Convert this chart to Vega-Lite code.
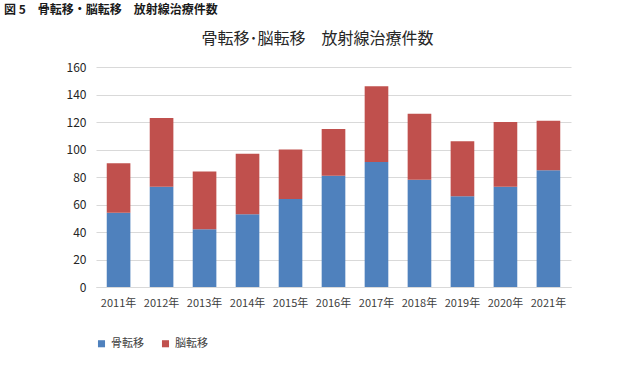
{
  "$schema": "https://vega.github.io/schema/vega-lite/v6.json",
  "padding": {"left": 4, "top": 4, "right": 5, "bottom": 5},
  "background": "white",
  "config": {
    "font": "Noto Sans CJK JP",
    "view": {"stroke": null},
    "concat": {"spacing": 0}
  },
  "title": {
    "text": "図 5　骨転移・脳転移　放射線治療件数",
    "anchor": "start",
    "fontSize": 12,
    "fontWeight": "bold",
    "color": "#1a1a1a",
    "font": "Noto Sans CJK JP",
    "offset": 14
  },
  "data": {
    "values": [
      {"年": "2011年", "系列": "骨転移", "件数": 54},
      {"年": "2011年", "系列": "脳転移", "件数": 36},
      {"年": "2012年", "系列": "骨転移", "件数": 73},
      {"年": "2012年", "系列": "脳転移", "件数": 50},
      {"年": "2013年", "系列": "骨転移", "件数": 42},
      {"年": "2013年", "系列": "脳転移", "件数": 42},
      {"年": "2014年", "系列": "骨転移", "件数": 53},
      {"年": "2014年", "系列": "脳転移", "件数": 44},
      {"年": "2015年", "系列": "骨転移", "件数": 64},
      {"年": "2015年", "系列": "脳転移", "件数": 36},
      {"年": "2016年", "系列": "骨転移", "件数": 81},
      {"年": "2016年", "系列": "脳転移", "件数": 34},
      {"年": "2017年", "系列": "骨転移", "件数": 91},
      {"年": "2017年", "系列": "脳転移", "件数": 55},
      {"年": "2018年", "系列": "骨転移", "件数": 78},
      {"年": "2018年", "系列": "脳転移", "件数": 48},
      {"年": "2019年", "系列": "骨転移", "件数": 66},
      {"年": "2019年", "系列": "脳転移", "件数": 40},
      {"年": "2020年", "系列": "骨転移", "件数": 73},
      {"年": "2020年", "系列": "脳転移", "件数": 47},
      {"年": "2021年", "系列": "骨転移", "件数": 85},
      {"年": "2021年", "系列": "脳転移", "件数": 36}
    ]
  },
  "vconcat": [
    {
      "width": 475,
      "height": 220,
      "title": {
        "text": "骨転移･脳転移　放射線治療件数",
        "anchor": "middle",
        "fontSize": 16,
        "fontWeight": "normal",
        "color": "#262626",
        "dx": -16,
        "offset": 14
      },
      "mark": {"type": "bar", "stroke": null},
      "encoding": {
        "x": {
          "field": "年",
          "type": "nominal",
          "sort": null,
          "scale": {"paddingInner": 0.45, "paddingOuter": 0.25},
          "axis": {
            "title": null,
            "labelAngle": 0,
            "labelFontSize": 11,
            "labelColor": "#404040",
            "ticks": false,
            "domainColor": "#d9d9d9",
            "labelPadding": 10
          }
        },
        "y": {
          "field": "件数",
          "type": "quantitative",
          "stack": "zero",
          "scale": {"domain": [0, 160]},
          "axis": {
            "title": null,
            "values": [0, 20, 40, 60, 80, 100, 120, 140, 160],
            "labelFontSize": 12,
            "labelColor": "#262626",
            "domain": false,
            "ticks": false,
            "gridColor": "#d9d9d9",
            "labelPadding": 10,
            "minExtent": 92
          }
        },
        "color": {
          "field": "系列",
          "type": "nominal",
          "scale": {"domain": ["骨転移", "脳転移"], "range": ["#4F81BD", "#C0504D"]},
          "legend": {
            "title": null,
            "orient": "bottom",
            "direction": "horizontal",
            "symbolType": "square",
            "symbolSize": 50,
            "labelFontSize": 11,
            "labelColor": "#404040",
            "columnPadding": 16,
            "offset": 30
          }
        },
        "order": {"field": "系列", "sort": "descending"}
      }
    }
  ]
}
